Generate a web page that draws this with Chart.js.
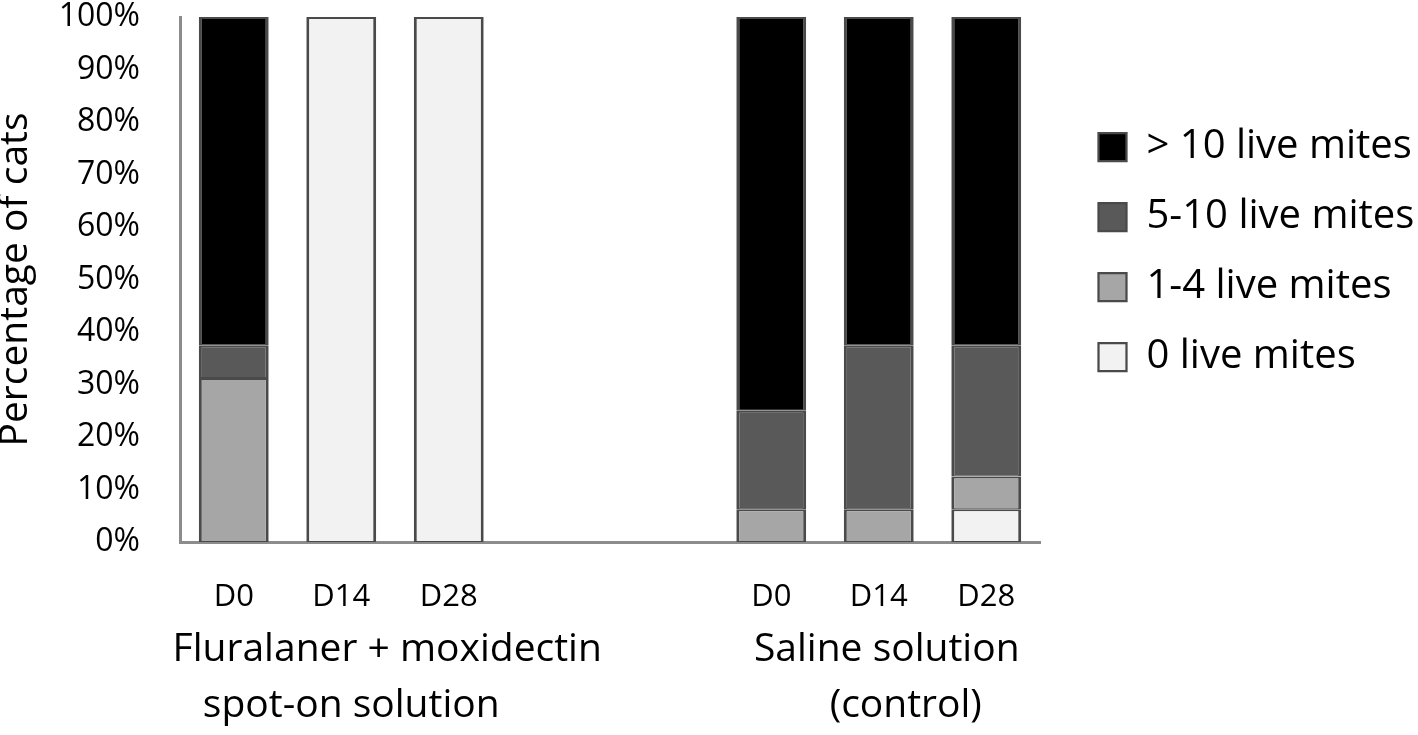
<!DOCTYPE html>
<html>
<head>
<meta charset="utf-8">
<script src="https://cdn.jsdelivr.net/npm/chart.js@4.4.1/dist/chart.umd.min.js"></script>
<style>
  html, body { margin: 0; padding: 0; background: #fff; }
  #wrap { width: 1418px; height: 735px; }
</style>
</head>
<body>
<div id="wrap"><canvas id="myChart" width="1418" height="735"></canvas></div>
<script>
// categories (two empty slots separate the groups)
var days = ["D0", "D14", "D28", "", "", "D0", "D14", "D28"];
var groupNames = [["Fluralaner + moxidectin", "spot-on solution"], ["Saline solution", "(control)"]];
var groupFirst = [0, 5];
var groupLast = [2, 7];

// percentage of cats per mite count class
var zeroMites = [null, 100, 100, null, null, null, null, 6.25];
var oneToFour = [31.25, null, null, null, null, 6.25, 6.25, 6.25];
var fiveToTen = [6.25, null, null, null, null, 18.75, 31.25, 25];
var overTen = [62.5, null, null, null, null, 75, 62.5, 62.5];

var yTicks = [0, 10, 20, 30, 40, 50, 60, 70, 80, 90, 100];

Chart.defaults.font.family = "'Open Sans', 'Noto Sans', sans-serif";
Chart.defaults.color = "#000";

var edge = "#4a4a4a";
var bw = { left: 3, right: 3, top: 2, bottom: 1 };

function makeSet(label, values, fill) {
  return {
    label: label,
    data: values,
    backgroundColor: fill,
    borderColor: edge,
    borderWidth: bw,
    borderSkipped: false,
    categoryPercentage: 1,
    barPercentage: 0.65,
  };
}

// group captions under the day labels
var groupLabels = {
  id: "groupLabels",
  afterDraw: function (chart) {
    var ctx = chart.ctx;
    var x = chart.scales.x;
    var shift = [[46, 10], [8, 27]];
    ctx.save();
    ctx.font = "39px 'Open Sans'";
    ctx.fillStyle = "#000";
    ctx.textAlign = "center";
    ctx.textBaseline = "alphabetic";
    for (var g = 0; g < groupNames.length; g++) {
      var mid = (x.getPixelForValue(groupFirst[g]) + x.getPixelForValue(groupLast[g])) / 2;
      ctx.fillText(groupNames[g][0], mid + shift[g][0], 661);
      ctx.fillText(groupNames[g][1], mid + shift[g][1], 717);
    }
    ctx.restore();
  },
};

// push the legend against the right edge of the canvas
var legendToEdge = {
  id: "legendToEdge",
  afterLayout: function (chart) {
    var l = chart.legend;
    var d = chart.width - l.right + 5;
    l.left += d;
    l.right += d;
  },
};

const ctx = document.getElementById("myChart");

new Chart(ctx, {
  type: "bar",
  data: {
    labels: days,
    datasets: [
      makeSet("0 live mites", zeroMites, "#f2f2f2"),
      makeSet("1-4 live mites", oneToFour, "#a6a6a6"),
      makeSet("5-10 live mites", fiveToTen, "#595959"),
      makeSet("> 10 live mites", overTen, "#000000"),
    ],
  },
  options: {
    responsive: false,
    animation: false,
    layout: { padding: { top: 17, left: 0, right: 0, bottom: 0 } },
    scales: {
      x: {
        stacked: true,
        grid: { display: false, drawTicks: false },
        border: { display: true, color: "#8c8c8c", width: 3 },
        ticks: { font: { size: 31 }, padding: 37, maxRotation: 0, autoSkip: false },
        afterFit: function (s) {
          s.height = 193;
          s.paddingLeft = 0;
          s.paddingRight = 378; // room for the legend
        },
      },
      y: {
        stacked: true,
        min: 0,
        max: 100,
        grid: { display: false, drawTicks: false },
        border: { display: true, color: "#8c8c8c", width: 3 },
        afterBuildTicks: function (s) {
          s.ticks = yTicks.map(function (v) { return { value: v }; });
        },
        ticks: {
          font: { size: 32 },
          padding: 40,
          callback: function (v) { return v + "%"; },
        },
        title: {
          display: true,
          text: "Percentage of cats",
          font: { size: 39, lineHeight: 1 },
          padding: { top: -4, bottom: 0 },
        },
        afterFit: function (s) {
          s.width = 180;
          s.paddingTop = 0;
          s.paddingBottom = 0;
        },
      },
    },
    plugins: {
      legend: {
        position: "right",
        align: "start",
        reverse: true,
        title: { display: true, text: " ", font: { size: 10 }, padding: { top: 0, bottom: 68 } },
        labels: {
          boxWidth: 28,
          boxHeight: 28,
          padding: 30,
          font: { size: 40 },
          color: "#000",
        },
      },
      tooltip: { enabled: false },
    },
  },
  plugins: [groupLabels, legendToEdge],
});
</script>
</body>
</html>
